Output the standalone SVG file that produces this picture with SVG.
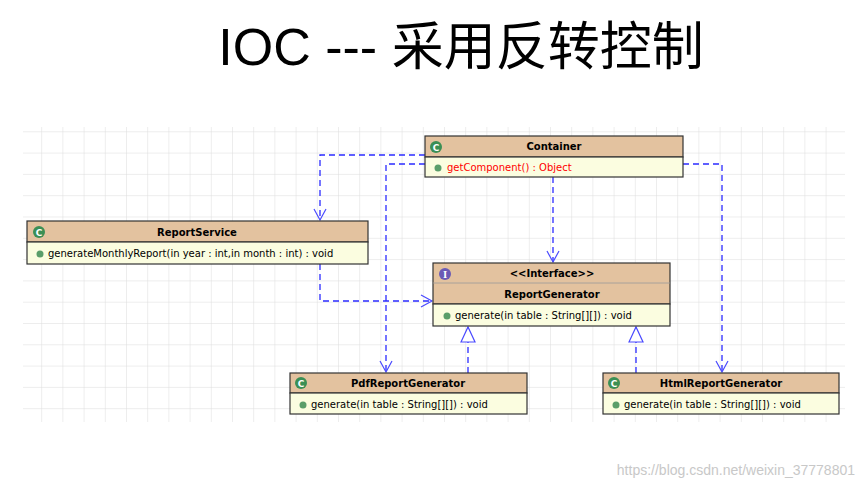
<svg xmlns="http://www.w3.org/2000/svg" width="866" height="490" viewBox="0 0 866 490">
<defs>
<pattern id="grid" x="20" y="110" width="21.2" height="21.3" patternUnits="userSpaceOnUse">
<path d="M0 0V21.3M0 0H21.2" fill="none" stroke="#dcdcdc" stroke-width="1"/>
</pattern>
<marker id="open" markerWidth="14" markerHeight="14" refX="12" refY="7" orient="auto" markerUnits="userSpaceOnUse"><path d="M1 1L12 7L1 13" fill="none" stroke="#4a4aff" stroke-width="1.2"/></marker>
<marker id="tri" markerWidth="18" markerHeight="16" refX="16" refY="8" orient="auto" markerUnits="userSpaceOnUse"><path d="M1 1L16 8L1 15Z" fill="#fff" stroke="#4a4aff" stroke-width="1.2"/></marker>
</defs>
<style>
.hd{fill:#e3c29f;stroke:#333;stroke-width:1.2}
.bd{fill:#fbfde0;stroke:#333;stroke-width:1.2}
.t{font-family:"DejaVu Sans",sans-serif;font-size:10px;fill:#000}
.b{font-weight:bold;text-anchor:middle}
.c{stroke:#2b2bff;stroke-width:1.3;fill:none;stroke-dasharray:6,4}
.dot{fill:#5a9e6a}
.ic{fill:#3b8f55}
</style>
<rect width="866" height="490" fill="#fff"/>
<rect x="23" y="127" width="822" height="295" fill="url(#grid)"/>
<text x="461" y="65" font-family="'Liberation Sans','Noto Sans CJK SC',sans-serif" font-size="52" text-anchor="middle" fill="#000">IOC --- 采用反转控制</text>
<g id="connectors">
<path class="c" d="M425 155H320V220" marker-end="url(#open)"/>
<path class="c" d="M425 164H386V372" marker-end="url(#open)"/>
<path class="c" d="M553 177V262" marker-end="url(#open)"/>
<path class="c" d="M683 164H722V372" marker-end="url(#open)"/>
<path class="c" d="M320 264V301H432" marker-end="url(#open)"/>
<path class="c" d="M468 373V327" marker-end="url(#tri)"/>
<path class="c" d="M636 373V327" marker-end="url(#tri)"/>
</g>
<g id="Container">
<rect class="hd" x="425" y="136" width="258" height="21"/>
<rect class="bd" x="425" y="157" width="258" height="20"/>
<circle class="ic" cx="436" cy="147" r="6"/><text x="436" y="150.5" font-family="DejaVu Sans" font-size="9" font-weight="bold" fill="#fff" text-anchor="middle">C</text>
<text class="t b" x="554" y="150">Container</text>
<circle class="dot" cx="438" cy="168" r="3.5"/>
<text class="t" x="447" y="171" style="fill:#f00">getComponent() : Object</text>
</g>
<g id="ReportService">
<rect class="hd" x="27" y="221" width="341" height="21"/>
<rect class="bd" x="27" y="242" width="341" height="22"/>
<circle class="ic" cx="39" cy="232" r="6"/><text x="39" y="235.5" font-family="DejaVu Sans" font-size="9" font-weight="bold" fill="#fff" text-anchor="middle">C</text>
<text class="t b" x="197" y="236">ReportService</text>
<circle class="dot" cx="40" cy="254" r="3.5"/>
<text class="t" x="48" y="257">generateMonthlyReport(in year : int,in month : int) : void</text>
</g>
<g id="ReportGenerator">
<rect class="hd" x="433" y="263" width="237" height="41"/>
<line x1="433" y1="283" x2="670" y2="283" stroke="#999" stroke-width="0.8"/>
<rect class="bd" x="433" y="304" width="237" height="22"/>
<circle cx="445" cy="274" r="6" fill="#6b5bb5"/><text x="445" y="277.5" font-family="DejaVu Serif" font-size="9" font-weight="bold" fill="#fff" text-anchor="middle">I</text>
<text class="t b" x="552" y="277">&lt;&lt;Interface&gt;&gt;</text>
<text class="t b" x="552" y="298">ReportGenerator</text>
<circle class="dot" cx="447" cy="316" r="3.5"/>
<text class="t" x="455" y="319">generate(in table : String[][]) : void</text>
</g>
<g id="PdfReportGenerator">
<rect class="hd" x="290" y="373" width="237" height="20"/>
<rect class="bd" x="290" y="393" width="237" height="21"/>
<circle class="ic" cx="301" cy="383" r="6"/><text x="301" y="386.5" font-family="DejaVu Sans" font-size="9" font-weight="bold" fill="#fff" text-anchor="middle">C</text>
<text class="t b" x="408" y="387">PdfReportGenerator</text>
<circle class="dot" cx="303" cy="405" r="3.5"/>
<text class="t" x="311" y="408">generate(in table : String[][]) : void</text>
</g>
<g id="HtmlReportGenerator">
<rect class="hd" x="603" y="373" width="236" height="20"/>
<rect class="bd" x="603" y="393" width="236" height="21"/>
<circle class="ic" cx="614" cy="383" r="6"/><text x="614" y="386.5" font-family="DejaVu Sans" font-size="9" font-weight="bold" fill="#fff" text-anchor="middle">C</text>
<text class="t b" x="721" y="387">HtmlReportGenerator</text>
<circle class="dot" cx="616" cy="405" r="3.5"/>
<text class="t" x="624" y="408">generate(in table : String[][]) : void</text>
</g>
<text x="855" y="475" font-family="'Liberation Sans',sans-serif" font-size="14" fill="#c8c8c8" text-anchor="end">https://blog.csdn.net/weixin_37778801</text>
</svg>
